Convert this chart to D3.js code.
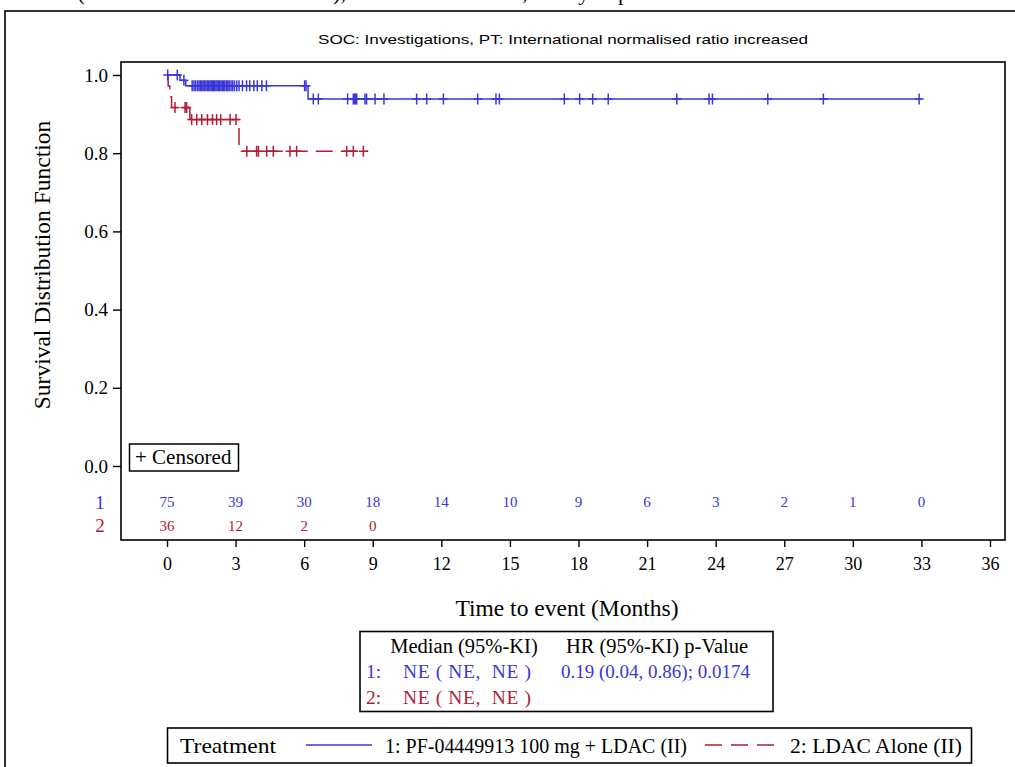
<!DOCTYPE html>
<html>
<head>
<meta charset="utf-8">
<script src="https://cdn.jsdelivr.net/npm/d3@7"></script>
<style>
  html, body { margin: 0; padding: 0; background: #fff; }
  svg { display: block; }
</style>
</head>
<body>
<svg id="chart" width="1015" height="767" font-family="Liberation Serif, Times New Roman, serif"></svg>
<script>
// ---- Kaplan-Meier data (time in months) ----
const arm1Name = "1: PF-04449913 100 mg + LDAC (II)";
const arm2Name = "2: LDAC Alone (II)";

// step points: time at which the curve drops, survival after the drop
const arm1StepTimes = [0, 0.57, 0.82, 6.17, 33.0];
const arm1StepSurv  = [1.0, 0.9863, 0.9724, 0.9386, 0.9386];
const arm1Censored  = [0.03, 0.45, 0.74,
  1.10, 1.18, 1.25, 1.33, 1.40, 1.46, 1.52, 1.58, 1.63, 1.70, 1.76, 1.82, 1.88,
  1.93, 1.98, 2.03, 2.08, 2.14, 2.19, 2.25, 2.30, 2.36, 2.42, 2.48, 2.53, 2.60,
  2.66, 2.72, 2.80, 2.87, 2.95,
  3.05, 3.15, 3.30, 3.48, 3.62, 3.80, 3.95, 4.15, 4.35,
  6.02, 6.08, 6.40, 6.62, 7.90, 8.15, 8.19, 8.25, 8.30, 8.66, 8.73,
  9.10, 9.49, 10.92, 11.36, 12.09, 13.59, 14.39, 14.54, 17.38, 18.05, 18.62,
  19.30, 22.30, 23.71, 23.86, 26.28, 28.71, 32.90];

const arm2StepTimes = [0, 0.05, 0.12, 0.20, 1.00, 3.15, 8.80];
const arm2StepSurv  = [1.0, 0.9722, 0.9444, 0.9167, 0.8860, 0.8050, 0.8050];
const arm2Censored  = [0.35, 0.79, 0.86,
  1.08, 1.30, 1.52, 1.77, 1.99, 2.17, 2.35, 2.76, 3.02,
  3.49, 3.92, 4.00, 4.36, 4.65, 5.38, 5.67, 7.86, 8.15, 8.59];

// numbers at risk
const riskTimes = [0, 3, 6, 9, 12, 15, 18, 21, 24, 27, 30, 33];
const arm1Risk  = [75, 39, 30, 18, 14, 10, 9, 6, 3, 2, 1, 0];
const arm2Risk  = [36, 12, 2, 0];

// axis ticks
const xTicks = [0, 3, 6, 9, 12, 15, 18, 21, 24, 27, 30, 33, 36];
const yTicks = [0, 0.2, 0.4, 0.6, 0.8, 1.0];

// summary statistics
const statHeaders = ["Median (95%-KI)", "HR (95%-KI) p-Value"];
const statArmLabels = ["1:", "2:"];
const statMedians = ["NE\u00a0(\u00a0NE,\u00a0\u00a0NE\u00a0)", "NE\u00a0(\u00a0NE,\u00a0\u00a0NE\u00a0)"];
const statHR = ["0.19 (0.04, 0.86); 0.0174", ""];

const BLUE = "#3a36d8";
const RED = "#b01c36";

const svg = d3.select("#chart");

// page heading (runs off the top edge of the page) and page frame
svg.append("text")
  .attr("x", 690).attr("y", 0)
  .attr("text-anchor", "end")
  .attr("font-size", 22)
  .text("Kaplan-Meier Plot (Table 2.0 of Adverse Events), Time to First Event, Safety Population");
svg.append("rect")
  .attr("x", 5).attr("y", 11).attr("width", 1030).attr("height", 800)
  .attr("fill", "none").attr("stroke", "#000").attr("stroke-width", 1.6);

// plot region
const plot = { left: 121, top: 62, right: 1005, bottom: 540 };
const x = d3.scaleLinear().domain([0, 36]).range([167, 990]);
const y = d3.scaleLinear().domain([0, 1]).range([466, 75]);

svg.append("text")
  .attr("x", 563).attr("y", 44)
  .attr("text-anchor", "middle")
  .attr("font-family", "Liberation Sans, Arial, sans-serif")
  .attr("font-size", 13.5)
  .attr("textLength", 490).attr("lengthAdjust", "spacingAndGlyphs")
  .text("SOC: Investigations, PT: International normalised ratio increased");

svg.append("rect")
  .attr("x", plot.left).attr("y", plot.top)
  .attr("width", plot.right - plot.left).attr("height", plot.bottom - plot.top)
  .attr("fill", "none").attr("stroke", "#000").attr("stroke-width", 1.6);

// y axis
const yAxis = d3.axisLeft(y).tickValues(yTicks).tickFormat(d3.format(".1f")).tickSize(8).tickPadding(5);
const gy = svg.append("g").attr("transform", `translate(${plot.left},0)`).call(yAxis);
gy.select(".domain").remove();
gy.selectAll("line").attr("stroke", "#000").attr("stroke-width", 1.4);
gy.selectAll("text").attr("font-size", 19).attr("fill", "#000")
  .attr("font-family", "Liberation Serif, serif");

// x axis
const xAxis = d3.axisBottom(x).tickValues(xTicks).tickFormat(d3.format("d")).tickSize(7).tickPadding(10);
const gx = svg.append("g").attr("transform", `translate(0,${plot.bottom})`).call(xAxis);
gx.select(".domain").remove();
gx.selectAll("line").attr("stroke", "#000").attr("stroke-width", 1.4);
gx.selectAll("text").attr("font-size", 18).attr("fill", "#000")
  .attr("font-family", "Liberation Serif, serif");

// axis titles
svg.append("text")
  .attr("transform", "translate(50,265) rotate(-90)")
  .attr("text-anchor", "middle").attr("font-size", 23.5)
  .text("Survival Distribution Function");
svg.append("text")
  .attr("x", 567).attr("y", 616)
  .attr("text-anchor", "middle").attr("font-size", 23.5)
  .text("Time to event (Months)");

// survival curves
function levelAt(times, surv, t) {
  const i = d3.bisectRight(times, t) - 1;
  return surv[Math.max(0, i)];
}
const stepLine = d3.line().x(d => x(d[0])).y(d => y(d[1])).curve(d3.curveStepAfter);

function drawArm(times, surv, censored, color, dash) {
  const pts = times.map((t, i) => [t, surv[i]]);
  svg.append("path")
    .attr("d", stepLine(pts))
    .attr("fill", "none").attr("stroke", color).attr("stroke-width", 1.5)
    .attr("stroke-dasharray", dash);
  const marks = svg.append("g");
  censored.forEach(t => {
    const cx = x(t), cy = y(levelAt(times, surv, t));
    marks.append("line").attr("x1", cx).attr("x2", cx).attr("y1", cy - 5.5).attr("y2", cy + 5.5)
      .attr("stroke", color).attr("stroke-width", 1.5);
    marks.append("line").attr("x1", cx - 4.5).attr("x2", cx + 4.5).attr("y1", cy).attr("y2", cy)
      .attr("stroke", color).attr("stroke-width", 1.5);
  });
}
drawArm(arm2StepTimes, arm2StepSurv, arm2Censored, RED, "17,8");
drawArm(arm1StepTimes, arm1StepSurv, arm1Censored, BLUE, null);

// censored legend
svg.append("rect")
  .attr("x", 129.5).attr("y", 444).attr("width", 109).attr("height", 27)
  .attr("fill", "#fff").attr("stroke", "#000").attr("stroke-width", 1.5);
svg.append("text").attr("x", 135).attr("y", 464).attr("font-size", 21)
  .text("+\u00a0Censored");

// numbers at risk
svg.append("text").attr("x", 100).attr("y", 509).attr("text-anchor", "middle")
  .attr("font-size", 19).attr("fill", BLUE).text("1");
svg.append("text").attr("x", 100).attr("y", 532).attr("text-anchor", "middle")
  .attr("font-size", 19).attr("fill", RED).text("2");
svg.append("g").selectAll("text").data(arm1Risk).join("text")
  .attr("x", (d, i) => x(riskTimes[i])).attr("y", 507)
  .attr("text-anchor", "middle").attr("font-size", 15).attr("fill", BLUE)
  .text(d => d);
svg.append("g").selectAll("text").data(arm2Risk).join("text")
  .attr("x", (d, i) => x(riskTimes[i])).attr("y", 531)
  .attr("text-anchor", "middle").attr("font-size", 15).attr("fill", RED)
  .text(d => d);

// statistics box
svg.append("rect")
  .attr("x", 360).attr("y", 631.5).attr("width", 413).attr("height", 80)
  .attr("fill", "none").attr("stroke", "#000").attr("stroke-width", 1.6);
svg.append("text").attr("x", 464).attr("y", 653).attr("text-anchor", "middle")
  .attr("font-size", 20.5).text(statHeaders[0]);
svg.append("text").attr("x", 657).attr("y", 653).attr("text-anchor", "middle")
  .attr("font-size", 20.5).text(statHeaders[1]);
[BLUE, RED].forEach((c, i) => {
  const by = 678 + i * 26;
  svg.append("text").attr("x", 366).attr("y", by).attr("font-size", 19.5).attr("fill", c)
    .text(statArmLabels[i]);
  svg.append("text").attr("x", 403).attr("y", by).attr("font-size", 19.5).attr("fill", c)
    .attr("textLength", 128).attr("lengthAdjust", "spacing")
    .text(statMedians[i]);
  svg.append("text").attr("x", 561).attr("y", by).attr("font-size", 19).attr("fill", c)
    .text(statHR[i]);
});

// treatment legend
svg.append("rect")
  .attr("x", 167.5).attr("y", 728).attr("width", 804).attr("height", 35)
  .attr("fill", "none").attr("stroke", "#000").attr("stroke-width", 1.6);
svg.append("text").attr("x", 180).attr("y", 753).attr("font-size", 22)
  .attr("textLength", 96).attr("lengthAdjust", "spacingAndGlyphs").text("Treatment");
svg.append("line").attr("x1", 306).attr("x2", 372).attr("y1", 745).attr("y2", 745)
  .attr("stroke", BLUE).attr("stroke-width", 1.5);
svg.append("text").attr("x", 385).attr("y", 753).attr("font-size", 22)
  .attr("textLength", 302).attr("lengthAdjust", "spacingAndGlyphs").text(arm1Name);
svg.append("line").attr("x1", 705).attr("x2", 775).attr("y1", 745).attr("y2", 745)
  .attr("stroke", RED).attr("stroke-width", 1.5).attr("stroke-dasharray", "17,9");
svg.append("text").attr("x", 790).attr("y", 753).attr("font-size", 22)
  .attr("textLength", 172).attr("lengthAdjust", "spacingAndGlyphs").text(arm2Name);
</script>
</body>
</html>
